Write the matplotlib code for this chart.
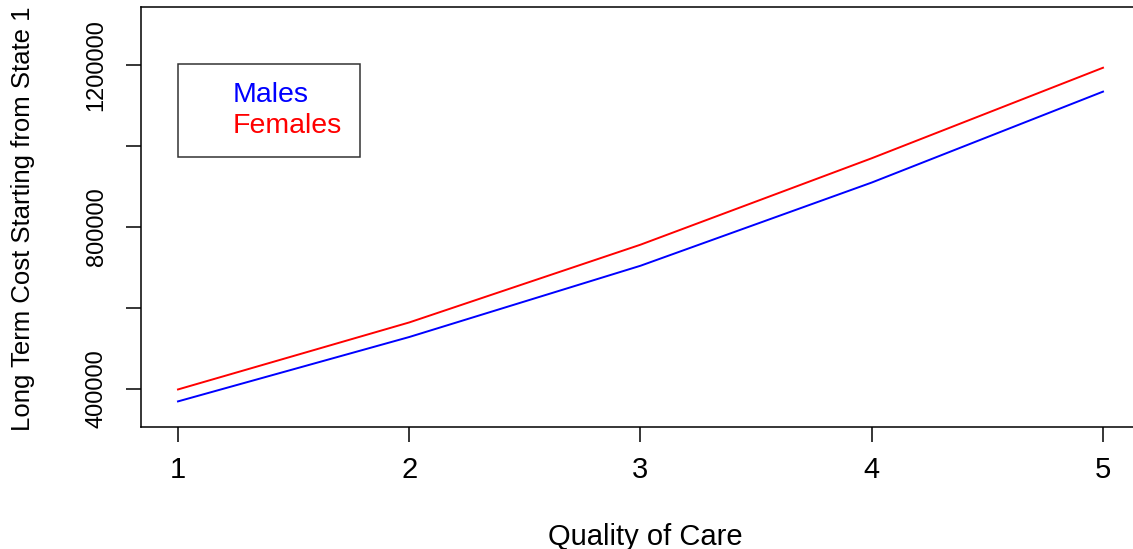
import matplotlib
matplotlib.use("Agg")
import matplotlib.pyplot as plt

plt.rcParams['font.family'] = ['Liberation Sans', 'DejaVu Sans']

quality = [1, 2, 3, 4, 5]
males = [369000, 528000, 704000, 909500, 1134000]
females = [398500, 564000, 756000, 969500, 1193000]
yticks = [400000, 600000, 800000, 1000000, 1200000]
ytick_labels = ["400000", "", "800000", "", "1200000"]

W, H = 1133, 549
fig = plt.figure(figsize=(W / 100, H / 100), dpi=100)
left, right, top, bottom = 141, 1140, 7, 426.5
ax = fig.add_axes([left / W, 1 - bottom / H, (right - left) / W, (bottom - top) / H])

ax.plot(quality, males, color='#0000FF', lw=1.4, label='Males')
ax.plot(quality, females, color='#FF0000', lw=1.4, label='Females')

ax.set_xlim(0.84, 5.16)
ax.set_ylim(307000, 1343000)
ax.set_xticks(quality)
ax.set_xticklabels([str(q) for q in quality], fontsize=21)
ax.set_yticks(yticks)
ax.set_yticklabels(ytick_labels, fontsize=17, rotation=90, va='center')
ax.tick_params(axis='both', direction='out', length=11, width=1.1, color='black')
ax.tick_params(axis='x', pad=10.5)
ax.tick_params(axis='y', pad=13)
for s in ax.spines.values():
    s.set_linewidth(1.1)
    s.set_color('black')

fig.text(645 / W, (H - 545) / H, 'Quality of Care', fontsize=21, ha='center', va='baseline')
fig.text(23 / W, 1 - 218.5 / H, 'Long Term Cost Starting from State 1', fontsize=18.5,
         rotation=90, ha='center', va='center')

leg = ax.legend(loc='upper left', bbox_to_anchor=(178 / W, 1 - 64 / H),
                bbox_transform=fig.transFigure, fontsize=20.5, handlelength=0,
                handletextpad=1.3, borderpad=0.63, labelspacing=0.17,
                fancybox=False, frameon=True, labelcolor='linecolor', borderaxespad=0)
leg.get_frame().set_edgecolor('black')
leg.get_frame().set_linewidth(1.1)

fig.savefig('out.png', dpi=100)
